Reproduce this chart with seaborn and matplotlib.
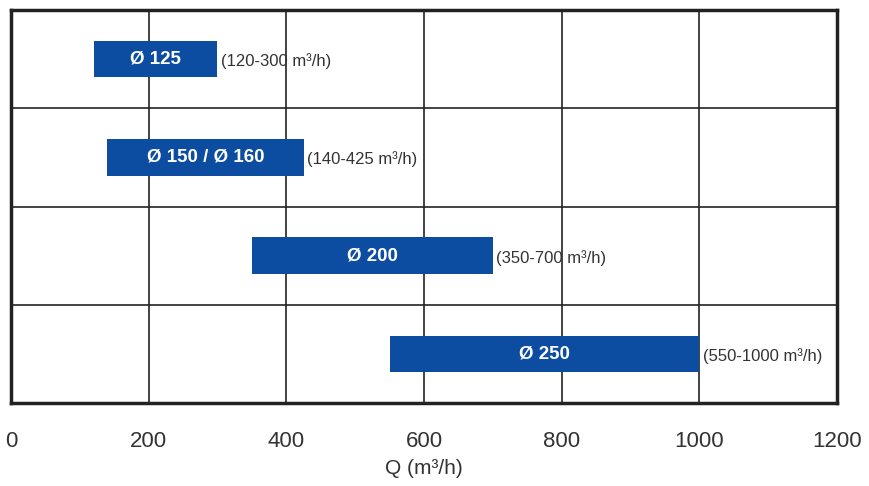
import pandas as pd
import matplotlib.pyplot as plt
import seaborn as sns

# pipe diameters and their flow ranges (m3/h)
sizes = ["Ø 125", "Ø 150 / Ø 160", "Ø 200", "Ø 250"]
q_min = [120, 140, 350, 550]
q_max = [300, 425, 700, 1000]
range_labels = ["(120-300 m³/h)", "(140-425 m³/h)", "(350-700 m³/h)", "(550-1000 m³/h)"]
x_ticks = [0, 200, 400, 600, 800, 1000, 1200]

df = pd.DataFrame({"size": sizes, "qmin": q_min, "qmax": q_max})
df["span"] = df["qmax"] - df["qmin"]

sns.set_style("white")
plt.rcParams["font.family"] = ["Liberation Sans", "DejaVu Sans"]

fig = plt.figure(figsize=(8.69, 4.86), dpi=100)
ax = fig.add_axes([0.0127, 0.171, 0.9503, 0.808])

sns.barplot(data=df, x="span", y="size", order=sizes, orient="y",
            color="#0D4DA1", saturation=1, width=0.37, errorbar=None,
            left=df["qmin"].tolist(), linewidth=0, zorder=3, ax=ax)

# grid: vertical at x ticks, horizontal between rows
for x in x_ticks[1:-1]:
    ax.axvline(x, color="#222222", lw=1.2, zorder=1)
for y in [0.5, 1.5, 2.5]:
    ax.axhline(y, color="#222222", lw=1.2, zorder=1)

for i, row in df.iterrows():
    ax.text((row["qmin"] + row["qmax"]) / 2, i, row["size"], color="white",
            ha="center", va="center", fontsize=13.5, fontweight="bold", zorder=4)
    ax.text(row["qmax"] + 5, i + 0.02, range_labels[i], color="#333333",
            ha="left", va="center", fontsize=12, zorder=4)

ax.set_xlim(0, 1200)
ax.set_ylim(3.5, -0.5)
ax.set_xticks(x_ticks)
ax.set_xticklabels([str(t) for t in x_ticks], fontsize=16, color="#333333")
ax.tick_params(axis="x", length=0, pad=20)
ax.set_yticks([])
ax.set_ylabel("")
ax.set_xlabel("Q (m³/h)", fontsize=15, color="#333333", labelpad=5)

for s in ax.spines.values():
    s.set_visible(True)
    s.set_color("#222222")
    s.set_linewidth(2.5)

fig.savefig("out.png", dpi=100)
